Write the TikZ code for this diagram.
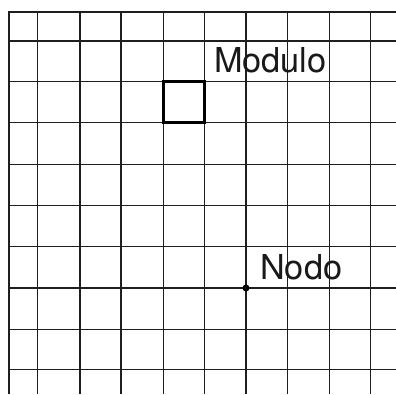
\documentclass[tikz,border=0pt]{standalone}
\usepackage{fontspec}
\setmainfont{TeX Gyre Heros}
\begin{document}
\begin{tikzpicture}[x=1pt,y=-1pt,
  gridline/.style={line width=1.5pt, black!88},
  borderline/.style={line width=2.3pt, black!88},
  modbox/.style={draw=black, line width=3pt, minimum width=41pt, minimum height=41pt, inner sep=0pt},
  lbl/.style={font=\fontsize{34.3}{34.3}\selectfont, inner sep=0pt, anchor=base west, text=black!90},
  dotnode/.style={circle, fill=black, inner sep=0pt, minimum size=7pt}]
\useasboundingbox (0,0) rectangle (396,394);
\fill[white] (0,0) rectangle (396,394);
% grid lines
\foreach \x in {37.7,80,121,163.3,204.3,246,287.7,329.3,370.7}
  \draw[gridline] (\x,12.3) -- (\x,394);
\foreach \y in {41,81.7,122.7,164.3,205.7,246.3,288,329.7,369.7}
  \draw[gridline] (9.3,\y) -- (396,\y);
% borders
\draw[borderline] (9.3,394) -- (9.3,12.3) -- (396,12.3);
% module box
\node[modbox] (modulo) at (183.8,102.2) {};
\node[lbl] (modlabel) at (214,72) {Modulo};
% node
\node[dotnode] (nodo) at (246,288) {};
\node[lbl] (nodolabel) at (260,279) {Nodo};
\end{tikzpicture}
\end{document}
